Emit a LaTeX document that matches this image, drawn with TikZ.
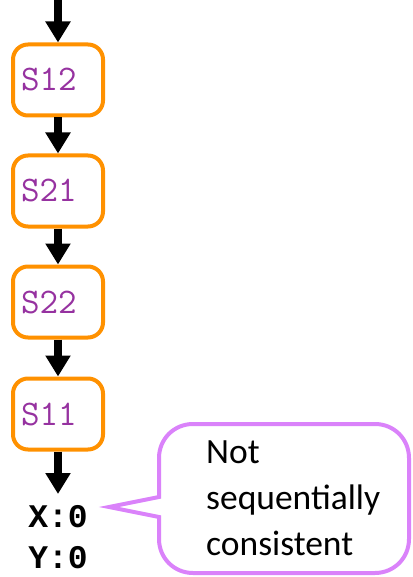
\documentclass[tikz,border=0pt]{standalone}
\usepackage{fontspec}
\newfontfamily\regfont{Liberation Mono}
\newfontfamily\calib{Carlito}
\usetikzlibrary{arrows.meta}
\definecolor{stmtorange}{RGB}{255,145,0}
\definecolor{stmtpurple}{RGB}{150,50,160}
\definecolor{noteviolet}{RGB}{218,130,250}
\tikzset{
  stmt/.style={draw=stmtorange,line width=4pt,rounded corners=15pt,
    minimum width=90pt,minimum height=71pt,text width=74pt,align=left,
    inner xsep=7pt,text=stmtpurple,font=\ttfamily\fontsize{36}{36}\selectfont},
  flow/.style={line width=7.5pt,-{Triangle[width=24pt,length=21pt]}},
  regval/.style={font=\regfont\bfseries\fontsize{33}{33}\selectfont}
}
\begin{document}
\begin{tikzpicture}[x=1pt,y=-1pt]
\useasboundingbox (0,0) rectangle (412,577);
\coordinate (top) at (58,-2);
\node[stmt] (s12) at (58,80) {S12};
\node[stmt] (s21) at (58,191) {S21};
\node[stmt] (s22) at (58,302) {S22};
\node[stmt] (s11) at (58,414) {S11};
\coordinate (bot) at (58,494);
\draw[flow] (top) -- (s12.north);
\draw[flow] (s12.south) -- (s21.north);
\draw[flow] (s21.south) -- (s22.north);
\draw[flow] (s22.south) -- (s11.north);
\draw[flow] (s11.south) -- (bot);
\node[regval] (xval) at (58,517) {X:0};
\node[regval] (yval) at (58,558) {Y:0};
% speech bubble
\draw[noteviolet,line width=4pt] (159,497) -- (159,458)
  .. controls (159,439) and (174,424) .. (193,424) -- (375,424)
  .. controls (394,424) and (409,439) .. (409,458) -- (409,539)
  .. controls (409,558) and (394,573) .. (375,573) -- (193,573)
  .. controls (174,573) and (159,558) .. (159,539) -- (159,517)
  -- (109,507) -- cycle;
\node[anchor=north west,inner sep=0pt,align=left,font=\calib\fontsize{35.5}{46}\selectfont]
  (note) at (206,441) {Not\\sequentially\\consistent};
\end{tikzpicture}
\end{document}
